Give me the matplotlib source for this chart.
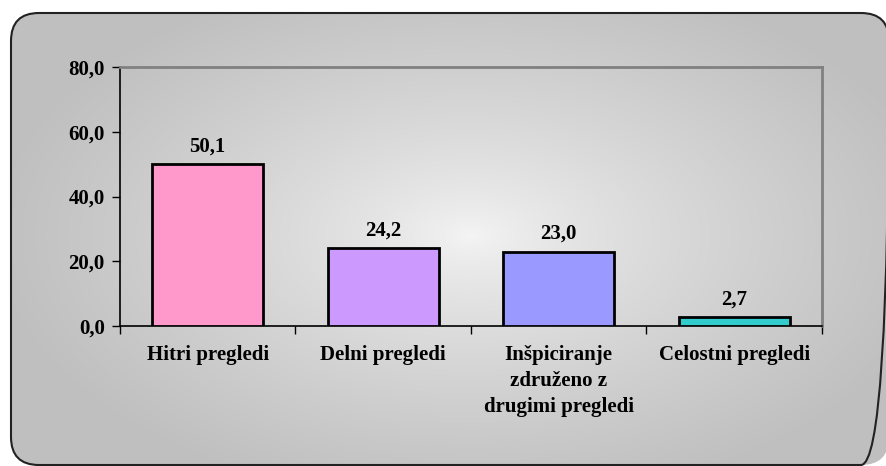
import numpy as np
import matplotlib
matplotlib.use('Agg')
import matplotlib.pyplot as plt
from matplotlib.patches import FancyBboxPatch

# podatki
kategorije = ['Hitri pregledi', 'Delni pregledi',
              'Inšpiciranje\nzdruženo z\ndrugimi pregledi', 'Celostni pregledi']
vrednosti = [50.1, 24.2, 23.0, 2.7]
barve = ['#FF99CC', '#CC99FF', '#9999FF', '#33CCCC']
y_ticks = [0, 20, 40, 60, 80]

plt.rcParams['font.family'] = ['Liberation Serif', 'DejaVu Serif']
plt.rcParams['font.weight'] = 'bold'
fs = 15

W, H = 887, 466
fig = plt.figure(figsize=(W / 100, H / 100), dpi=100)
fig.patch.set_facecolor('white')

# ozadje z radialnim prelivom in zaobljenim robom
bg = fig.add_axes([0, 0, 1, 1])
bg.set_xlim(0, W)
bg.set_ylim(H, 0)
bg.axis('off')
xx, yy = np.meshgrid(np.arange(W), np.arange(H))
r = np.sqrt(((xx - 470) / 480.0) ** 2 + ((yy - 235) / 270.0) ** 2)
val = 0.96 - 0.21 * np.clip(r, 0, 1) ** 0.75
img = np.dstack([val, val, val])
okvir = FancyBboxPatch((11, 13), 878, 452, boxstyle='round,pad=0,rounding_size=28',
                       facecolor='none', edgecolor='#222222', linewidth=1.5)
bg.add_patch(okvir)
im = bg.imshow(img, extent=(0, W, H, 0), aspect='auto', zorder=0)
im.set_clip_path(okvir)

# graf
ax = fig.add_axes([120 / W, 1 - 326 / H, 702 / W, 259 / H])
ax.patch.set_alpha(0)
x = np.arange(len(kategorije))
stolpci = ax.bar(x, vrednosti, width=0.63, color=barve, edgecolor='black', linewidth=2, zorder=3)
for s, v in zip(stolpci, vrednosti):
    ax.text(s.get_x() + s.get_width() / 2, v + 2.3, ('%.1f' % v).replace('.', ','),
            ha='center', va='bottom', fontsize=fs, fontweight='bold')

ax.set_xlim(-0.5, len(kategorije) - 0.5)
ax.set_ylim(0, 80)
ax.set_yticks(y_ticks)
ax.set_yticklabels([('%.1f' % t).replace('.', ',') for t in y_ticks], fontsize=fs, fontweight='bold')
ax.set_xticks(np.arange(len(kategorije) + 1) - 0.5, minor=False)
ax.set_xticklabels([])
ax.set_xticks(x, minor=True)
ax.set_xticklabels(kategorije, minor=True, fontsize=fs, fontweight='bold',
                   linespacing=1.38, va='top')
ax.tick_params(axis='x', which='minor', length=0, pad=14)
ax.tick_params(axis='x', which='major', length=6, width=1, direction='out')
ax.tick_params(axis='y', length=6, width=1, pad=5)

for side in ['left', 'bottom']:
    ax.spines[side].set_color('black')
    ax.spines[side].set_linewidth(1.2)
for side in ['top', 'right']:
    ax.spines[side].set_color('#808080')
    ax.spines[side].set_linewidth(2)

fig.savefig('out.png', dpi=100)
